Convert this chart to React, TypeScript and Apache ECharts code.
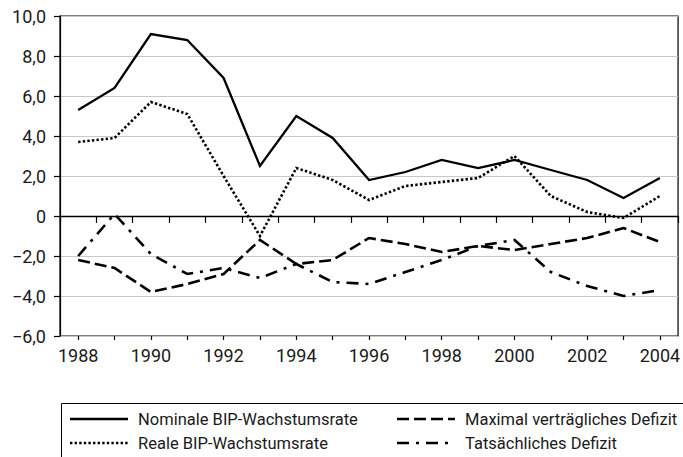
import React, { useEffect, useRef } from 'react';
import * as echarts from 'echarts';

const years = ['1988','1989','1990','1991','1992','1993','1994','1995','1996','1997','1998','1999','2000','2001','2002','2003','2004'];
const nominal = [5.3, 6.4, 9.1, 8.8, 6.9, 2.5, 5.0, 3.9, 1.8, 2.2, 2.8, 2.4, 2.8, 2.3, 1.8, 0.9, 1.9];
const real = [3.7, 3.9, 5.7, 5.1, 2.0, -1.0, 2.4, 1.8, 0.8, 1.5, 1.7, 1.9, 3.0, 1.0, 0.2, -0.1, 1.0];
const maxDeficit = [-2.2, -2.6, -3.8, -3.4, -2.9, -1.2, -2.4, -2.2, -1.1, -1.4, -1.8, -1.5, -1.7, -1.4, -1.1, -0.6, -1.3];
const actualDeficit = [-2.0, 0.1, -1.9, -2.9, -2.6, -3.1, -2.4, -3.3, -3.4, -2.8, -2.2, -1.5, -1.2, -2.8, -3.5, -4.0, -3.7];
const seriesNames = ['Nominale BIP-Wachstumsrate', 'Reale BIP-Wachstumsrate', 'Maximal verträgliches Defizit', 'Tatsächliches Defizit'];
const yMin = -6;
const yMax = 10;
const yStep = 2;

const FONT = 'Roboto, "Liberation Sans", sans-serif';
const INK = '#1a1a1a';

const styles = [
  { width: 2.3, dash: null as number[] | null },
  { width: 2.6, dash: [2.4, 2.2] },
  { width: 2.6, dash: [12, 5] },
  { width: 2.6, dash: [12, 7, 3, 7] },
];

export default function App() {
  const ref = useRef<HTMLDivElement>(null);
  useEffect(() => {
    if (!ref.current) return;
    const chart = echarts.init(ref.current, undefined, { renderer: 'svg' });
    const dataSets = [nominal, real, maxDeficit, actualDeficit];
    const series: any[] = dataSets.map((d, i) => ({
      name: seriesNames[i],
      type: 'line',
      xAxisIndex: 0,
      data: d,
      symbol: 'none',
      lineStyle: {
        color: '#000',
        width: styles[i].width,
        type: styles[i].dash ? styles[i].dash : 'solid',
        cap: 'butt',
        join: 'miter',
      },
      z: 3,
      ...(i === 0
        ? {
            markLine: {
              silent: true,
              symbol: 'none',
              label: { show: false },
              lineStyle: { color: '#000', type: 'solid', width: 1.3 },
              data: [{ yAxis: 0 }],
              z: 2,
            },
          }
        : {}),
    }));

    const legendPos = [
      { x: 70, y: 419 },
      { x: 70, y: 443 },
      { x: 397, y: 419 },
      { x: 397, y: 443 },
    ];
    const graphic: any[] = [
      {
        type: 'rect',
        shape: { x: 61.5, y: 403.5, width: 700, height: 100 },
        style: { fill: 'none', stroke: '#000', lineWidth: 1 },
      },
    ];
    seriesNames.forEach((name, i) => {
      const p = legendPos[i];
      graphic.push({
        type: 'line',
        shape: { x1: p.x, y1: p.y, x2: p.x + 58, y2: p.y },
        style: {
          stroke: '#000',
          lineWidth: styles[i].width,
          lineDash: styles[i].dash || undefined,
          lineCap: 'butt',
        },
      });
      graphic.push({
        type: 'text',
        x: p.x + 68,
        y: p.y,
        style: {
          text: name,
          fontSize: 16.5,
          fontFamily: FONT,
          fill: INK,
          verticalAlign: 'middle',
          align: 'left',
        },
      });
    });

    chart.setOption({
      animation: false,
      grid: {
        left: 60,
        top: 16,
        width: 622,
        height: 320,
        show: true,
        borderColor: '#000',
        borderWidth: 1.2,
        backgroundColor: 'transparent',
      },
      xAxis: [
        {
          type: 'category',
          data: years,
          boundaryGap: true,
          axisLine: { show: true, lineStyle: { color: '#000', width: 1.2 } },
          axisTick: { show: true, interval: 0, length: 7, alignWithLabel: false, lineStyle: { color: '#000', width: 1.2 } },
          axisLabel: { interval: 1, fontSize: 18, fontFamily: FONT, color: INK, margin: 10 },
          splitLine: { show: false },
        },
        {
          type: 'category',
          data: years,
          position: 'bottom',
          boundaryGap: true,
          axisLine: { show: false },
          axisTick: { show: true, interval: 0, length: 4, alignWithLabel: true, lineStyle: { color: '#000', width: 1.2 } },
          axisLabel: { show: false },
          splitLine: { show: false },
        },
      ],
      yAxis: {
        type: 'value',
        min: yMin,
        max: yMax,
        interval: yStep,
        axisLine: { show: true, lineStyle: { color: '#000', width: 1.2 } },
        axisTick: { show: true, length: 6, lineStyle: { color: '#000', width: 1.2 } },
        axisLabel: {
          fontSize: 18,
          fontFamily: FONT,
          color: INK,
          margin: 14,
          formatter: (v: number) => (v === 0 ? '0' : v.toFixed(1).replace('.', ',').replace('-', '\u2212')),
        },
        splitLine: { show: true, lineStyle: { color: '#c8c8c8', width: 1.2 } },
      },
      series,
      graphic,
    });
    return () => chart.dispose();
  }, []);
  return <div ref={ref} style={{ position: 'fixed', left: 0, top: 0, width: 683, height: 457, background: '#fff' }} />;
}
